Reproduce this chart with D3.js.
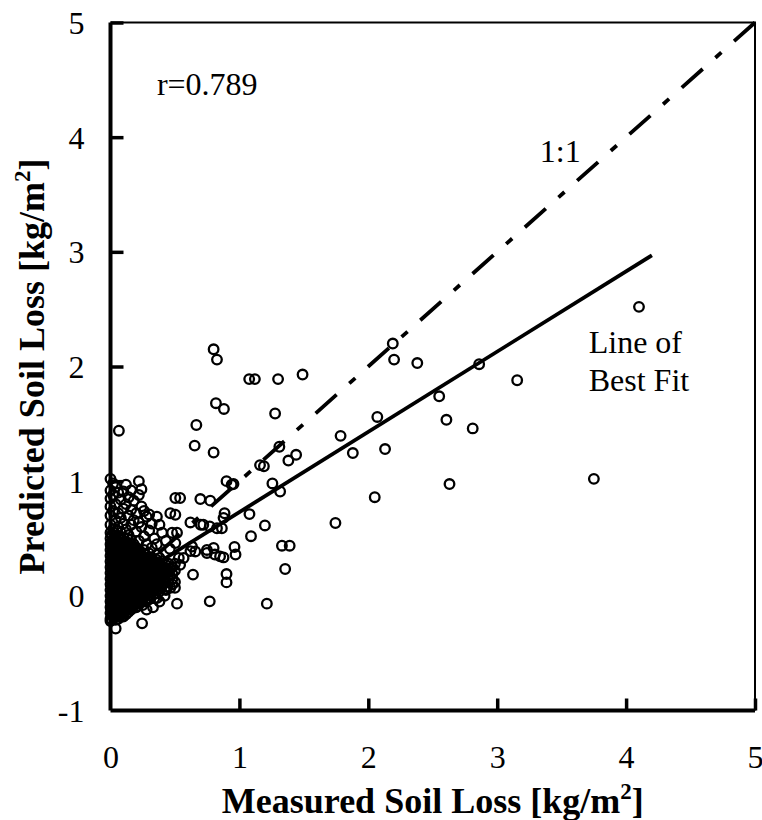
<!DOCTYPE html>
<html>
<head>
<meta charset="utf-8">
<script src="https://cdn.jsdelivr.net/npm/d3@7"></script>
<style>
  html, body { margin: 0; padding: 0; background: #fff; }
  svg { display: block; }
  text { font-family: "Liberation Serif", "Times New Roman", serif; fill: #000; }
</style>
</head>
<body>
<svg id="chart" width="762" height="820"></svg>
<script>
// ---------- data ----------
const xTicks = [0, 1, 2, 3, 4, 5];
const yTicks = [-1, 0, 1, 2, 3, 4, 5];
const xTitle = "Measured Soil Loss [kg/m";
const yTitle = "Predicted Soil Loss [kg/m";

// scattered points [measured, predicted]
const outerPoints = [
  [0.065,1.44],[0.80,2.15],[0.826,2.06],[1.076,1.89],[1.12,1.89],[1.30,1.89],[1.49,1.93],
  [0.818,1.68],[0.88,1.63],[0.666,1.49],[0.653,1.31],[0.80,1.25],[1.16,1.14],[0.90,1.0],[0.954,0.975],
  [2.19,2.20],[2.20,2.06],[1.277,1.59],[2.07,1.56],[1.785,1.395],[2.13,1.28],[1.88,1.245],[1.31,1.30],
  [1.44,1.23],[1.38,1.18],[1.256,0.98],[2.38,2.03],[2.86,2.02],[3.155,1.88],[2.55,1.74],[2.606,1.535],
  [2.81,1.46],[2.63,0.975],[2.05,0.86],[1.745,0.635],[1.39,0.437],[1.33,0.437],[1.355,0.234],
  [4.10,2.52],[3.75,1.02],[1.316,0.91],[1.078,0.713],[1.198,0.614],[1.09,0.52],[1.213,-0.068],
  [0.962,0.426],[0.97,0.36],[0.877,0.335],[0.90,0.19],[0.90,0.117],[0.885,0.72],[0.864,0.59],[0.94,0.97],
  [0.503,0.853],[0.54,0.853],[0.697,0.844],[0.774,0.83],[0.464,0.72],[0.503,0.707],[0.62,0.64],[0.70,0.62],
  [0.632,0.43],[0.658,0.387],[0.748,0.40],[0.80,0.417],[0.81,0.36],[0.64,0.185],[0.516,-0.068],[0.77,-0.048],
  [0.245,-0.24],[0.04,-0.285],[0.567,0.33],[0.72,0.62],[0.77,0.605],[0.826,0.59],[0.877,0.68],[1.19,1.13],
  [0.464,0.07],[0.62,0.39],[0.53,0.33],[0.54,0.27],[0.478,0.55],[0.516,0.55],[0.503,0.46],[0.85,0.344],
  [0.748,0.374],[0.45,0.22],[0.48,0.15],[0.44,0.08],[0.50,0.12],[0.42,0.0],[0.38,-0.05],[0.33,-0.10],
  [0.28,-0.12],[0.36,-0.02],[0.31,0.0],[0.10,-0.15],[0.04,-0.21]
];

// dense cluster near the origin: [measured, list of predicted]
const clusterColumns = [
  [0.00, [1.02,0.92,0.85,0.78,0.70,0.62,0.55,0.50,0.45,0.40,0.35,0.30,0.25,0.20,0.15,0.10,0.05,0.0,-0.05,-0.10,-0.15,-0.20,-0.22]],
  [0.01, [0.53,0.47,0.43,0.38,0.33,0.28,0.23,0.18,0.13,0.08,0.03,-0.01,-0.06,-0.11,-0.16,-0.21]],
  [0.02, [0.98,0.88,0.74,0.58,0.48,0.42,0.36,0.31,0.26,0.21,0.16,0.11,0.06,0.02,-0.03,-0.08,-0.13,-0.18]],
  [0.03, [0.55,0.46,0.40,0.35,0.30,0.24,0.19,0.14,0.09,0.05,0.00,-0.04,-0.09,-0.14,-0.19]],
  [0.04, [0.95,0.80,0.66,0.52,0.44,0.38,0.33,0.28,0.22,0.17,0.12,0.07,0.03,-0.02,-0.06,-0.11,-0.16]],
  [0.05, [0.57,0.47,0.39,0.31,0.26,0.20,0.15,0.10,0.06,0.01,-0.03,-0.08,-0.13,-0.18]],
  [0.06, [0.90,0.72,0.60,0.50,0.41,0.35,0.29,0.24,0.18,0.13,0.08,0.04,-0.01,-0.05,-0.10,-0.15,-0.20]],
  [0.07, [0.52,0.44,0.37,0.31,0.22,0.16,0.11,0.06,0.02,-0.03,-0.07,-0.12,-0.17]],
  [0.08, [0.84,0.68,0.55,0.46,0.39,0.32,0.26,0.20,0.15,0.10,0.05,0.00,-0.04,-0.09,-0.14]],
  [0.09, [0.49,0.41,0.34,0.28,0.22,0.17,0.12,0.07,0.03,-0.01,-0.06,-0.11,-0.16]],
  [0.10, [0.91,0.76,0.63,0.51,0.43,0.36,0.30,0.23,0.17,0.12,0.07,0.02,-0.03,-0.08,-0.13,-0.18]],
  [0.11, [0.45,0.38,0.32,0.25,0.19,0.15,0.09,0.05,0.00,-0.05,-0.10,-0.14]],
  [0.12, [0.97,0.80,0.58,0.47,0.40,0.33,0.27,0.21,0.14,0.09,0.04,-0.01,-0.06,-0.11,-0.16]],
  [0.13, [0.50,0.42,0.35,0.29,0.23,0.17,0.11,0.07,0.02,-0.03,-0.08,-0.12]],
  [0.14, [0.86,0.70,0.53,0.44,0.37,0.30,0.24,0.18,0.12,0.06,0.01,-0.04,-0.09,-0.14]],
  [0.15, [0.46,0.39,0.32,0.26,0.21,0.16,0.10,0.05,-0.01,-0.06,-0.10]],
  [0.16, [0.92,0.75,0.62,0.49,0.41,0.34,0.27,0.20,0.14,0.08,0.03,-0.02,-0.07,-0.12]],
  [0.17, [0.43,0.36,0.29,0.23,0.17,0.11,0.06,0.01,-0.05,-0.10]],
  [0.18, [0.83,0.66,0.45,0.38,0.31,0.25,0.19,0.13,0.07,0.02,-0.03,-0.08]],
  [0.19, [0.40,0.33,0.27,0.21,0.15,0.09,0.04,-0.02,-0.07]],
  [0.20, [0.72,0.56,0.42,0.35,0.28,0.22,0.16,0.10,0.05,0.00,-0.05,-0.10]],
  [0.21, [0.37,0.30,0.24,0.18,0.12,0.06,0.01,-0.04,-0.09]],
  [0.22, [1.00,0.88,0.64,0.48,0.39,0.32,0.26,0.20,0.14,0.08,0.03,-0.02,-0.07]],
  [0.23, [0.34,0.27,0.21,0.15,0.10,0.04,-0.01,-0.06]],
  [0.24, [0.93,0.78,0.60,0.36,0.29,0.23,0.17,0.12,0.06,0.01,-0.04]],
  [0.25, [0.32,0.25,0.19,0.13,0.07,0.02,-0.03,-0.08]],
  [0.26, [0.74,0.52,0.40,0.33,0.26,0.20,0.15,0.09,0.04,-0.01]],
  [0.27, [0.36,0.29,0.22,0.16,0.11,0.05,0.00,-0.05]],
  [0.28, [0.69,0.45,0.31,0.24,0.18,0.13,0.07,0.02]],
  [0.29, [0.33,0.26,0.20,0.14,0.08,0.03,-0.02]],
  [0.30, [0.71,0.57,0.37,0.28,0.22,0.16,0.11,0.05,-0.03]],
  [0.31, [0.31,0.24,0.18,0.12,0.07,0.01]],
  [0.32, [0.63,0.42,0.33,0.25,0.19,0.14,0.08,0.03]],
  [0.33, [0.28,0.21,0.15,0.10,0.04]],
  [0.34, [0.50,0.30,0.23,0.17,0.12,0.06,-0.02]],
  [0.35, [0.32,0.25,0.19,0.13,0.07,0.02]],
  [0.36, [0.69,0.45,0.36,0.27,0.21,0.15,0.09]],
  [0.37, [0.29,0.22,0.16,0.11,0.06]],
  [0.38, [0.62,0.33,0.25,0.19,0.13,0.04]],
  [0.39, [0.27,0.20,0.14,0.08]],
  [0.40, [0.55,0.30,0.23,0.17,0.10]],
  [0.42, [0.24,0.18,0.11,0.06]],
  [0.43, [0.48,0.27,0.20,0.13,0.05]],
  [0.45, [0.28,0.21,0.14]],
  [0.46, [0.41,0.24,0.18]],
  [0.48, [0.25,0.19,0.10]],
  [0.50, [0.28,0.22,0.07]]
];

const oneToOneLine = [[5, 5], [0, 0]];
const fitLine = [[0, 0.03], [4.2, 2.97]];

const annotations = [
  { text: "r=0.789", x: 0.36, y: 4.37 },
  { text: "1:1", x: 3.33, y: 3.78 },
  { text: "Line of", x: 3.71, y: 2.12 },
  { text: "Best Fit", x: 3.71, y: 1.79 }
];

// ---------- chart ----------
const svg = d3.select("#chart");
const x = d3.scaleLinear().domain([0, 5]).range([110.5, 755]);
const y = d3.scaleLinear().domain([-1, 5]).range([710.5, 22.5]);

const points = outerPoints.slice();
clusterColumns.forEach(([mx, ps]) => ps.forEach(p => points.push([mx, p])));

// points
svg.append("g")
  .selectAll("circle")
  .data(points)
  .join("circle")
  .attr("cx", d => x(d[0]))
  .attr("cy", d => y(d[1]))
  .attr("r", 4.8)
  .attr("fill", "none")
  .attr("stroke", "#000")
  .attr("stroke-width", 2.3);

const line = d3.line().x(d => x(d[0])).y(d => y(d[1]));

svg.append("path")
  .datum(oneToOneLine)
  .attr("d", line)
  .attr("fill", "none")
  .attr("stroke", "#000")
  .attr("stroke-width", 3.8)
  .attr("stroke-dasharray", "28,17,8,17");

svg.append("path")
  .datum(fitLine)
  .attr("d", line)
  .attr("fill", "none")
  .attr("stroke", "#000")
  .attr("stroke-width", 3.8);

// frame: thin top and right
svg.append("path")
  .attr("d", `M${x(0)},${y(5)}H${x(5)}V${y(-1)}`)
  .attr("fill", "none")
  .attr("stroke", "#000")
  .attr("stroke-width", 2);

// axes
const fmt = d => String(d);
const xAxis = svg.append("g")
  .attr("transform", `translate(0,${y(-1)})`)
  .call(d3.axisBottom(x).tickValues(xTicks).tickSize(-12).tickPadding(0).tickFormat(fmt));
const yAxis = svg.append("g")
  .attr("transform", `translate(${x(0)},0)`)
  .call(d3.axisLeft(y).tickValues(yTicks).tickSize(-13).tickPadding(0).tickFormat(fmt));

[xAxis, yAxis].forEach(g => {
  g.select(".domain").attr("stroke", "#000").attr("stroke-width", 4);
  g.selectAll(".tick line").attr("stroke", "#000").attr("stroke-width", 3.5);
  g.selectAll(".tick text").attr("font-family", "Liberation Serif, Times New Roman, serif").attr("font-size", 32).attr("fill", "#000");
});
xAxis.select(".domain").attr("d", `M${x(0)},0H${x(5)}`);
yAxis.select(".domain").attr("d", `M0,${y(-1)}V${y(5)}`);
xAxis.selectAll(".tick text").attr("dy", null).attr("y", 57);
yAxis.selectAll(".tick text").attr("x", -26).attr("dy", "0.34em").attr("text-anchor", "end");
yAxis.selectAll(".tick").filter(d => d === -1).select("line").remove();
xAxis.selectAll(".tick").filter(d => d === 0).select("line").remove();

// annotations
svg.append("g").selectAll("text")
  .data(annotations)
  .join("text")
  .attr("x", d => x(d.x))
  .attr("y", d => y(d.y))
  .attr("font-size", 32)
  .text(d => d.text);

// axis titles
const xt = svg.append("text")
  .attr("x", (x(0) + x(5)) / 2)
  .attr("y", 813)
  .attr("text-anchor", "middle")
  .attr("font-size", 36)
  .attr("font-weight", "bold");
xt.append("tspan").text(xTitle);
xt.append("tspan").attr("font-size", 23).attr("dy", -14).text("2");
xt.append("tspan").attr("dy", 14).text("]");

const yt = svg.append("text")
  .attr("transform", `translate(44,${(y(-1) + y(5)) / 2}) rotate(-90)`)
  .attr("text-anchor", "middle")
  .attr("font-size", 36)
  .attr("font-weight", "bold");
yt.append("tspan").text(yTitle);
yt.append("tspan").attr("font-size", 23).attr("dy", -14).text("2");
yt.append("tspan").attr("dy", 14).text("]");
</script>
</body>
</html>
